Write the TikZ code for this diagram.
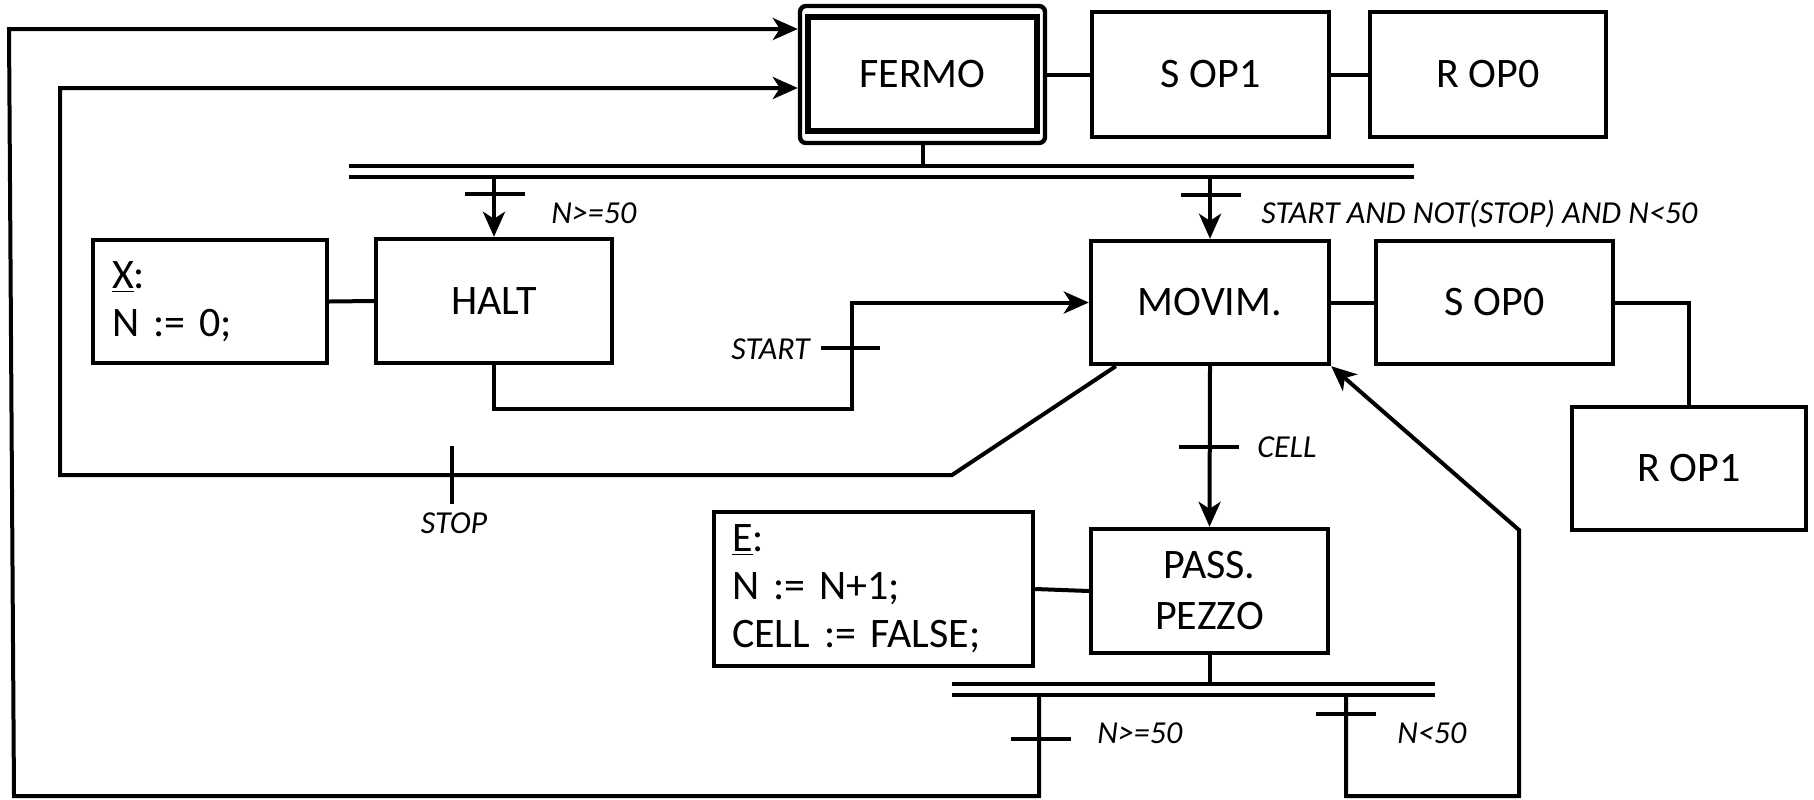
\documentclass[tikz,border=0pt]{standalone}
\usepackage{fontspec}
\setmainfont{Carlito}
\usetikzlibrary{arrows.meta}
\frenchspacing
\begin{document}
\begin{tikzpicture}[x=0.5pt,y=-0.5pt,
  box/.style={draw, line width=2.2pt, inner sep=0pt, font=\fontsize{21}{24}\selectfont},
  conn/.style={line width=2pt},
  arr/.style={conn, -{Stealth[length=12.5pt,width=11pt,inset=3.5pt]}},
  tickmark/.style={line width=2.4pt},
  bar/.style={line width=2pt},
  lbl/.style={font=\fontsize{16}{19}\selectfont\itshape, inner sep=0pt}]
\useasboundingbox (0,0) rectangle (1814,799);
% boxes
\node[box, rounded corners=3pt, minimum width=122.5pt, minimum height=68.5pt] (fermo) at (922.5,74.5) {};
\node[box, line width=2.6pt, minimum width=114.5pt, minimum height=57pt] (fermoin) at (922.5,74) {FERMO};
\node[box, minimum width=118.5pt, minimum height=62.5pt] (sop1) at (1210.5,74.5) {S OP1};
\node[box, minimum width=118pt, minimum height=62.5pt] (rop0) at (1488,74.5) {R OP0};
\node[box, align=left, text width=98pt, inner xsep=9.5pt, minimum height=61.5pt] (xact) at (210,301.5) {\underline{X}:\\N := 0;};
\node[box, minimum width=118pt, minimum height=62pt] (halt) at (494,301) {HALT};
\node[box, minimum width=119pt, minimum height=61.5pt] (movim) at (1210,302.5) {MOVIM.};
\node[box, minimum width=118.5pt, minimum height=61.5pt] (sop0) at (1494.5,302.5) {S OP0};
\node[box, minimum width=117pt, minimum height=61.5pt] (rop1) at (1689,468.5) {R OP1};
\node[box, align=left, text width=141.5pt, inner xsep=9pt, minimum height=77pt] (eact) at (873.5,589) {\underline{E}:\\N := N+1;\\CELL := FALSE;};
\node[box, align=center, minimum width=118.5pt, minimum height=62pt] (pass) at (1209.5,591) {PASS.\\[1.5pt]PEZZO};
% action links
\draw[conn] (fermo.east) -- (sop1.west);
\draw[conn] (sop1.east) -- (rop0.west);
\draw[conn] (xact.east) -- (halt.west);
\draw[conn] (movim.east) -- (sop0.west);
\draw[conn] (sop0.east) -| (rop1.north);
\draw[conn] (eact.east) -- (pass.west);
% top double bar
\draw[conn] (fermo.south) -- (fermo.south |- 0,166);
\draw[bar] (349,166) -- (1414,166);
\draw[bar] (349,177) -- (1414,177);
\draw[arr] (halt.north |- 0,177) -- (halt.north);
\draw[tickmark] (465,194) -- (525,194);
\node[lbl, anchor=west] (l1) at (551,213) {N>=50};
\draw[arr] (movim.north |- 0,177) -- (movim.north);
\draw[tickmark] (1181,195) -- (1241,195);
\node[lbl, anchor=west] (l2) at (1261,214) {START AND NOT(STOP) AND N<50};
% HALT -> MOVIM
\coordinate (st) at (852,409);
\draw[arr] (halt.south) |- (st) |- (movim.west);
\draw[tickmark] (821,348) -- (880,348);
\node[lbl, anchor=east] (l3) at (810,349) {START};
% STOP loop
\draw[arr] ([xshift=13.5pt]movim.south west) -- (952,475) -- (60,475) -- (60,88) -- (fermo.west |- 0,88);
\draw[tickmark] (452,446) -- (452,504);
\node[lbl] (l4) at (454,523) {STOP};
% CELL
\draw[arr] (movim.south) -- (pass.north);
\draw[tickmark] (1179,447) -- (1239,447);
\node[lbl, anchor=west] (l5) at (1257,447) {CELL};
% bottom double bar
\draw[conn] (pass.south) -- (pass.south |- 0,684);
\draw[bar] (952,684) -- (1435,684);
\draw[bar] (952,695) -- (1435,695);
% N>=50 outer loop
\draw[arr] (1039,695) -- (1039,796) -- (14,796) -- (9,29) -- (fermo.west |- 0,29);
\draw[tickmark] (1011,739) -- (1071,739);
\node[lbl, anchor=west] (l6) at (1097,733) {N>=50};
% N<50 loop
\draw[arr] (1346,695) -- (1346,796) -- (1519,796) -- (1519,530) -- (movim.south east);
\draw[tickmark] (1316,714) -- (1376,714);
\node[lbl, anchor=west] (l7) at (1397,733) {N<50};
\end{tikzpicture}
\end{document}
